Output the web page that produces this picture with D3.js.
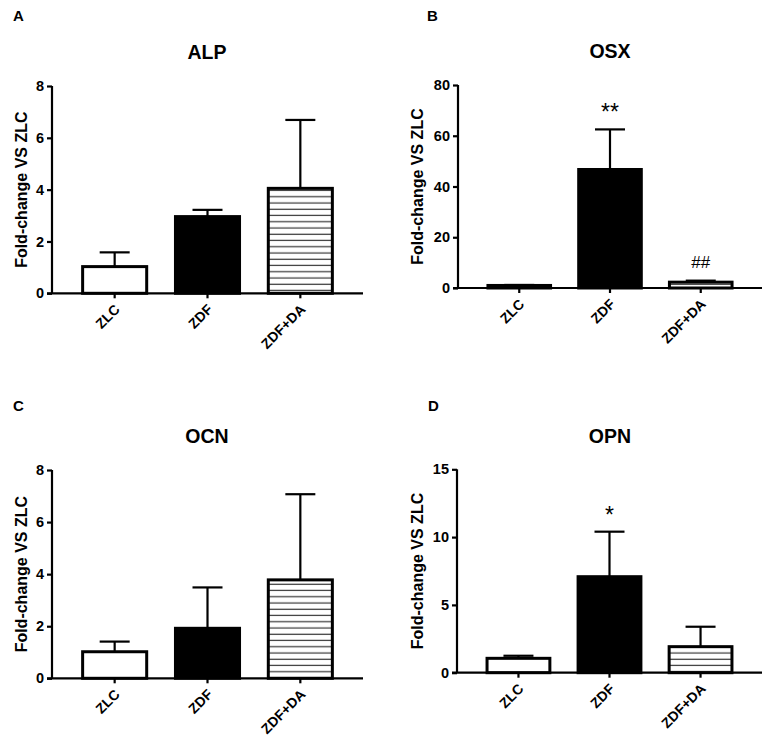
<!DOCTYPE html>
<html><head><meta charset="utf-8">
<script src="https://cdn.jsdelivr.net/npm/d3@7"></script>
<style>
html,body{margin:0;padding:0;background:#fff;}
svg{display:block;}
text{font-family:"Liberation Sans",Arial,sans-serif;}
</style></head>
<body>
<svg id="chart" width="765" height="744"></svg>
<script>
const categories = ["ZLC", "ZDF", "ZDF+DA"];
const fills = ["white", "black", "stripe"];

const alpMean = [1.03, 2.96, 4.05];
const alpErr  = [0.55, 0.26, 2.64];
const alpTicks = [0, 2, 4, 6, 8];
const alpMarks = ["", "", ""];

const osxMean = [1.0, 46.7, 2.3];
const osxErr  = [0.2, 15.8, 0.6];
const osxTicks = [0, 20, 40, 60, 80];
const osxMarks = ["", "**", "##"];

const ocnMean = [1.02, 1.92, 3.78];
const ocnErr  = [0.39, 1.57, 3.29];
const ocnTicks = [0, 2, 4, 6, 8];
const ocnMarks = ["", "", ""];

const opnMean = [1.06, 7.08, 1.92];
const opnErr  = [0.19, 3.32, 1.47];
const opnTicks = [0, 5, 10, 15];
const opnMarks = ["", "*", ""];

const panelLetters = ["A", "B", "C", "D"];
const panelTitles = ["ALP", "OSX", "OCN", "OPN"];
const yTitle = "Fold-change VS ZLC";

const panels = [
  {letter: panelLetters[0], title: panelTitles[0], mean: alpMean, err: alpErr, ticks: alpTicks, marks: alpMarks,
   box: {l: 52, r: 363, t: 86, b: 293.3}, lx: 13, ly: 21, tx: 207, ty: 59, yl: 21},
  {letter: panelLetters[1], title: panelTitles[1], mean: osxMean, err: osxErr, ticks: osxTicks, marks: osxMarks,
   box: {l: 458, r: 762, t: 85, b: 288}, lx: 427, ly: 21, tx: 610, ty: 58, yl: 417},
  {letter: panelLetters[2], title: panelTitles[2], mean: ocnMean, err: ocnErr, ticks: ocnTicks, marks: ocnMarks,
   box: {l: 52, r: 363, t: 470, b: 678.3}, lx: 13, ly: 411, tx: 207, ty: 443, yl: 21},
  {letter: panelLetters[3], title: panelTitles[3], mean: opnMean, err: opnErr, ticks: opnTicks, marks: opnMarks,
   box: {l: 457, r: 762, t: 469.3, b: 672.7}, lx: 428, ly: 411, tx: 610, ty: 443, yl: 417}
];

const svg = d3.select("#chart");
const defs = svg.append("defs");
const pat = defs.append("pattern").attr("id", "stripe")
  .attr("patternUnits", "userSpaceOnUse").attr("width", 20).attr("height", 6.25);
pat.append("rect").attr("width", 20).attr("height", 6.25).attr("fill", "white");
pat.append("line").attr("x1", 0).attr("x2", 20).attr("y1", 3).attr("y2", 3)
  .attr("stroke", "#333").attr("stroke-width", 1.2);

panels.forEach(p => {
  const g = svg.append("g");
  const bx = p.box;
  const x = d3.scaleBand().domain(categories).range([bx.l, bx.r]).paddingInner(0.31).paddingOuter(0.33);
  const y = d3.scaleLinear().domain([p.ticks[0], p.ticks[p.ticks.length - 1]]).range([bx.b, bx.t]);

  g.append("text").attr("x", p.lx).attr("y", p.ly).text(p.letter)
    .attr("font-weight", "bold").attr("font-size", 15);
  g.append("text").attr("x", p.tx).attr("y", p.ty).text(p.title)
    .attr("text-anchor", "middle").attr("font-weight", "bold").attr("font-size", 19.5);
  g.append("text").attr("transform", `translate(${p.yl},${(bx.t + bx.b) / 2}) rotate(-90)`)
    .attr("text-anchor", "middle").attr("dominant-baseline", "central")
    .attr("font-weight", "bold").attr("font-size", 16).text(yTitle);

  categories.forEach((c, i) => {
    const x0 = x(c), w = x.bandwidth();
    const v = p.mean[i], e = p.err[i];
    const cx = x0 + w / 2;
    g.append("line").attr("x1", cx).attr("x2", cx).attr("y1", y(v)).attr("y2", y(v + e))
      .attr("stroke", "black").attr("stroke-width", 2.2);
    g.append("line").attr("x1", cx - 15).attr("x2", cx + 15).attr("y1", y(v + e)).attr("y2", y(v + e))
      .attr("stroke", "black").attr("stroke-width", 2.2);
    const f = fills[i] === "stripe" ? "url(#stripe)" : fills[i];
    g.append("rect").attr("x", x0).attr("y", y(v)).attr("width", w).attr("height", Math.max(0, y(0) - y(v)))
      .attr("fill", f).attr("stroke", "black").attr("stroke-width", 3);
    if (p.marks[i]) {
      const isHash = p.marks[i].indexOf("#") >= 0;
      g.append("text").attr("x", cx).attr("y", y(v + e) - (isHash ? 13 : 9)).text(p.marks[i])
        .attr("text-anchor", "middle").attr("font-size", isHash ? 17 : 23)
        .attr("font-family", '"Liberation Sans",Arial,sans-serif');
    }
  });

  const ya = d3.axisLeft(y).tickValues(p.ticks).tickSize(5).tickPadding(3).tickFormat(d3.format("d"));
  const yg = g.append("g").attr("transform", `translate(${bx.l},0)`).call(ya);
  yg.select(".domain").attr("stroke-width", 2.2).attr("d", `M0,${bx.t}V${bx.b}`);
  yg.selectAll(".tick line").attr("stroke-width", 2.2);
  yg.selectAll(".tick text").attr("font-size", 14.5).attr("font-weight", "bold")
    .attr("font-family", '"Liberation Sans",Arial,sans-serif').attr("fill", "black");

  const xa = d3.axisBottom(x).tickSize(5).tickSizeOuter(0);
  const xg = g.append("g").attr("transform", `translate(0,${bx.b})`).call(xa);
  xg.select(".domain").attr("stroke-width", 2.2).attr("d", `M${bx.l - 5},0H${bx.r}`);
  xg.selectAll(".tick line").attr("stroke-width", 2.2);
  xg.selectAll(".tick text").attr("font-size", 14).attr("font-weight", "bold")
    .attr("font-family", '"Liberation Sans",Arial,sans-serif').attr("fill", "black")
    .attr("text-anchor", "end").attr("y", 0).attr("dy", 0)
    .attr("transform", "translate(6,17) rotate(-45)");
});
</script>
</body></html>
